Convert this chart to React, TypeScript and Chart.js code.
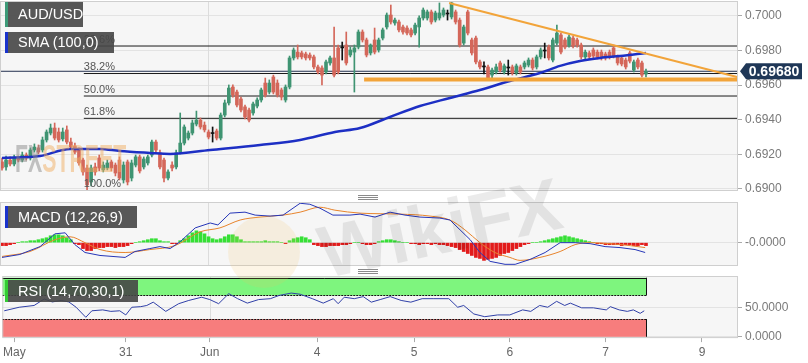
import React, { useEffect, useRef } from "react";
import { Chart, registerables } from "chart.js";

Chart.register(...registerables);
Chart.defaults.font.family = '"Liberation Sans", Arial, sans-serif';

// ---------------- DATA ----------------
// hourly AUD/USD candles: [open, high, low, close]
const candles: number[][] = [
  [0.69156, 0.69179, 0.69109, 0.69121], [0.69127, 0.6919, 0.69109, 0.69167], [0.69167, 0.69185, 0.69133, 0.69144],
  [0.69144, 0.69196, 0.69133, 0.69179], [0.69179, 0.6919, 0.69156, 0.69167], [0.69167, 0.69213, 0.69156, 0.69196],
  [0.69196, 0.69208, 0.69167, 0.69179], [0.69179, 0.69237, 0.69167, 0.69225], [0.69225, 0.6926, 0.69213, 0.69242],
  [0.69237, 0.69254, 0.69202, 0.69213], [0.69225, 0.693, 0.69213, 0.69283], [0.69283, 0.69341, 0.69271, 0.69329],
  [0.69323, 0.69375, 0.69312, 0.69352], [0.69352, 0.69381, 0.69283, 0.69294], [0.69329, 0.69352, 0.69271, 0.69283],
  [0.69289, 0.69352, 0.69277, 0.69329], [0.69341, 0.69364, 0.6926, 0.69271], [0.69271, 0.69294, 0.69231, 0.69242],
  [0.69248, 0.69265, 0.69202, 0.69213], [0.69225, 0.69237, 0.69138, 0.6915], [0.69167, 0.69179, 0.6908, 0.69098],
  [0.69121, 0.69138, 0.68989, 0.69023], [0.6904, 0.69138, 0.69017, 0.69121], [0.69127, 0.6915, 0.6908, 0.69098],
  [0.69179, 0.69196, 0.69104, 0.69121], [0.6911, 0.69156, 0.69098, 0.69138], [0.69121, 0.69167, 0.6911, 0.6915],
  [0.69156, 0.69167, 0.69104, 0.69121], [0.69138, 0.6915, 0.69075, 0.69092], [0.69167, 0.69185, 0.69052, 0.69063],
  [0.69052, 0.69156, 0.69034, 0.69138], [0.69156, 0.69167, 0.69023, 0.6904], [0.69063, 0.69167, 0.69046, 0.6915],
  [0.69138, 0.69196, 0.69127, 0.69185], [0.69185, 0.69196, 0.69092, 0.69104], [0.69127, 0.69185, 0.69115, 0.69173],
  [0.6915, 0.69196, 0.69138, 0.69185], [0.69196, 0.69283, 0.69185, 0.69271], [0.69271, 0.69283, 0.69213, 0.69225],
  [0.69208, 0.69225, 0.69115, 0.69127], [0.69167, 0.69179, 0.6904, 0.69063], [0.69063, 0.6911, 0.69052, 0.69098],
  [0.69138, 0.69156, 0.69104, 0.69121], [0.69127, 0.69225, 0.69115, 0.69208], [0.69213, 0.69439, 0.69202, 0.69265],
  [0.69265, 0.6937, 0.69254, 0.69358], [0.69294, 0.69335, 0.69283, 0.69323], [0.69323, 0.69398, 0.69312, 0.69381],
  [0.69375, 0.6945, 0.69364, 0.69398], [0.69398, 0.6941, 0.69346, 0.69358], [0.69369, 0.69387, 0.69329, 0.69341],
  [0.69329, 0.69341, 0.69289, 0.693], [0.6932, 0.69358, 0.69271, 0.6932], [0.69335, 0.69346, 0.69283, 0.69294],
  [0.69294, 0.69439, 0.69283, 0.69427], [0.69427, 0.69514, 0.69416, 0.69497], [0.69497, 0.69601, 0.69485, 0.69583],
  [0.69589, 0.69601, 0.69531, 0.69543], [0.6956, 0.69572, 0.69474, 0.69485], [0.6952, 0.69531, 0.69445, 0.69456],
  [0.69474, 0.69485, 0.69404, 0.69416], [0.69456, 0.69468, 0.69387, 0.69398], [0.69439, 0.69502, 0.69427, 0.69491],
  [0.69479, 0.69526, 0.69468, 0.69514], [0.69514, 0.69583, 0.69502, 0.69572], [0.69612, 0.69641, 0.69531, 0.69543],
  [0.6956, 0.6963, 0.69549, 0.69612], [0.69647, 0.69658, 0.69549, 0.6956], [0.69612, 0.6963, 0.69531, 0.69543],
  [0.69572, 0.69583, 0.69514, 0.69531], [0.69514, 0.69601, 0.69502, 0.69589], [0.69589, 0.69768, 0.69578, 0.69757],
  [0.69757, 0.69815, 0.69745, 0.69803], [0.69791, 0.69832, 0.69751, 0.69763], [0.69786, 0.69797, 0.69751, 0.69763],
  [0.6978, 0.69791, 0.69745, 0.69757], [0.69774, 0.69786, 0.69745, 0.69757], [0.69763, 0.69774, 0.69693, 0.69705],
  [0.69705, 0.69716, 0.69664, 0.69676], [0.69699, 0.69711, 0.69601, 0.69658], [0.69676, 0.69745, 0.69664, 0.69734],
  [0.69728, 0.69768, 0.69716, 0.69757], [0.69757, 0.69936, 0.69647, 0.69658], [0.69815, 0.69832, 0.69664, 0.69676],
  [0.69815, 0.69849, 0.69745, 0.69815], [0.69832, 0.69907, 0.69716, 0.69728], [0.69774, 0.6982, 0.69763, 0.69803],
  [0.69791, 0.69832, 0.6956, 0.69815], [0.6982, 0.69919, 0.69809, 0.69907], [0.69907, 0.69919, 0.69849, 0.69861],
  [0.69861, 0.69872, 0.69763, 0.69774], [0.69786, 0.69838, 0.69774, 0.69832], [0.69861, 0.6993, 0.6978, 0.69791],
  [0.69803, 0.69872, 0.69791, 0.69861], [0.69872, 0.6993, 0.69861, 0.69919], [0.69936, 0.70017, 0.69924, 0.70005],
  [0.70005, 0.70063, 0.69953, 0.69965], [0.69959, 0.69988, 0.69947, 0.69976], [0.69965, 0.69976, 0.69907, 0.69919],
  [0.69936, 0.69947, 0.69895, 0.69907], [0.6993, 0.69942, 0.6989, 0.69901], [0.69919, 0.6993, 0.69878, 0.6989],
  [0.69901, 0.69959, 0.6989, 0.69947], [0.69936, 0.7, 0.6982, 0.69988], [0.69988, 0.70046, 0.69976, 0.70034],
  [0.69988, 0.70034, 0.69976, 0.70023], [0.70023, 0.70034, 0.69953, 0.69965], [0.69976, 0.70028, 0.69965, 0.70017],
  [0.69988, 0.70075, 0.69976, 0.70017], [0.70005, 0.70046, 0.69994, 0.70034], [0.70011, 0.70034, 0.69976, 0.70011],
  [0.69994, 0.70086, 0.69982, 0.70075], [0.70023, 0.70034, 0.69953, 0.69965], [0.69976, 0.69988, 0.6982, 0.69832],
  [0.69843, 0.69947, 0.69832, 0.69936], [0.70023, 0.70034, 0.6989, 0.69901], [0.69861, 0.69872, 0.69774, 0.69786],
  [0.69872, 0.69884, 0.69722, 0.69734], [0.69734, 0.69745, 0.69693, 0.69705], [0.69705, 0.69734, 0.69664, 0.69705],
  [0.69705, 0.69716, 0.6963, 0.69641], [0.69658, 0.69699, 0.69641, 0.69687], [0.69676, 0.69722, 0.69664, 0.69705],
  [0.69728, 0.69739, 0.69676, 0.69687], [0.69676, 0.69722, 0.69664, 0.69711], [0.69699, 0.69745, 0.69658, 0.69699],
  [0.69705, 0.69716, 0.69658, 0.6967], [0.6967, 0.69722, 0.69658, 0.69711], [0.69705, 0.69716, 0.69664, 0.69676],
  [0.69705, 0.69739, 0.69693, 0.69728], [0.69716, 0.69757, 0.69705, 0.69745], [0.69745, 0.69757, 0.69687, 0.69699],
  [0.69705, 0.69774, 0.69693, 0.69763], [0.69763, 0.69815, 0.69751, 0.69803], [0.69797, 0.69843, 0.69757, 0.69797],
  [0.6982, 0.69832, 0.69745, 0.69757], [0.69745, 0.69872, 0.69734, 0.69861], [0.69843, 0.69947, 0.69832, 0.69901],
  [0.6989, 0.69901, 0.6978, 0.69791], [0.69861, 0.69872, 0.69809, 0.6982], [0.69832, 0.6989, 0.6982, 0.69878],
  [0.69872, 0.69884, 0.69815, 0.69826], [0.69861, 0.69872, 0.6982, 0.69832], [0.69832, 0.69843, 0.69751, 0.69763],
  [0.69763, 0.69803, 0.69751, 0.69791], [0.69786, 0.69797, 0.69751, 0.69763], [0.69803, 0.69815, 0.69757, 0.69768],
  [0.69791, 0.69803, 0.69751, 0.69763], [0.69791, 0.69803, 0.69745, 0.69757], [0.6978, 0.69791, 0.69745, 0.69757],
  [0.69791, 0.69803, 0.69751, 0.69763], [0.69815, 0.69832, 0.69757, 0.69768], [0.69763, 0.69774, 0.69716, 0.69728],
  [0.69757, 0.69768, 0.69711, 0.69722], [0.69745, 0.69757, 0.69693, 0.69705], [0.69786, 0.69797, 0.69728, 0.69739],
  [0.69687, 0.69745, 0.69676, 0.69734], [0.69745, 0.69757, 0.69693, 0.69705], [0.69728, 0.69739, 0.69647, 0.69658],
  [0.69664, 0.69693, 0.69647, 0.6968],
];

// SMA(100) read at bar positions
const smaIdx = [0, 9.4, 16.8, 24.2, 29.1, 36.5, 41.5, 51.4, 63.7, 73.6, 82.2, 88.4, 95.8, 103.2, 110.6, 118, 125.4, 132.8, 137.8, 142.7, 147.7, 152.6, 159];
const smaVal = [0.69179, 0.6919, 0.69231, 0.69231, 0.69219, 0.69208, 0.69202, 0.69225, 0.69254, 0.69283, 0.69329, 0.69352, 0.69416, 0.69479, 0.69526, 0.69572, 0.69624, 0.6967, 0.69711, 0.69739, 0.69757, 0.69768, 0.69786];

// Fibonacci retracement
const fibLevels = [0.70086, 0.69826, 0.69667, 0.69537, 0.69408, 0.68989];
const fibLabels = ["0.0%", "23.6%", "38.2%", "50.0%", "61.8%", "100.0%"];
const fibStartIdx = 20.2;

// drawn trend lines
const trendIdx = [110.4, 181.5];
const trendVal = [0.70075, 0.69647];
const supportIdx = [89.4, 181.5];
const supportVal = [0.69632, 0.69632];

const priceTicks = [0.69, 0.692, 0.694, 0.696, 0.698, 0.7];

// MACD (12,26,9), units of 0.00001
const macdIdx = [0, 4.4, 9.4, 13.1, 15.6, 18, 20.5, 24.2, 30.4, 32.8, 36.5, 39, 41.5, 44, 47.7, 51.4, 53.3, 56.3, 60, 62.5, 66.2, 69.4, 73.6, 76, 78.5, 81.7, 85.9, 88.4, 92.1, 95.8, 99.5, 103.2, 108.1, 110.6, 113.1, 115.6, 118, 120.5, 124.2, 126.7, 130.4, 134.1, 137.8, 141.5, 145.2, 148.9, 152.6, 156.3, 158.8];
const macdVal = [-15, -12, -4, 9, 10, -2, -10, -13, -15, -9, -6, -4, -6, 1, 15, 20, 18, 30, 31, 28, 27, 28, 40, 39, 35, 28, 28, 29, 26, 31, 28, 26, 25, 23, 13, 3, -10, -19, -22, -22, -17, -10, 0, 0, -1, -4, -5, -7, -10];
const signalIdx = [0, 6.9, 13.1, 16.8, 20.5, 24.2, 30.4, 36.5, 42.7, 48.9, 53.8, 58.8, 63.7, 69.4, 73.6, 78.5, 82.2, 88.4, 98.3, 105.7, 110.6, 114.3, 118, 121.7, 125.4, 127.9, 132.8, 137.8, 141.5, 145.2, 150.1, 155.1, 158.8];
const signalVal = [-14, -9, 3, 6, 0, -7, -10, -7, -3, 11, 15, 23, 26, 28, 31, 36, 33, 30, 29, 27, 23, 13, 0, -10, -15, -18, -15, -9, -2, 0, -1, -3, -5];
const histVal = [
  -3, -3, -2, -1, 0, 1, 1, 2, 2, 3,
  4, 5, 7, 8, 8, 7, 5, 3, -1, -2,
  -6, -8, -8, -6, -5, -5, -4, -4, -5, -4,
  -4, -3, -1, 0, 1, 2, 3, 4, 4, 2,
  1, 1, -1, -1, 2, 4, 7, 10, 12, 11,
  9, 6, 4, 3, 4, 6, 8, 8, 6, 3,
  1, 1, 1, 1, 1, 2, 1, 1, 1, 0,
  -1, 2, 4, 5, 6, 5, 3, -2, -3, -4,
  -4, -3, -3, -3, -2, -2, -1, 0, 0, -1,
  -2, -2, -1, 1, 2, 3, 3, 2, 1, 0,
  0, -1, -1, -2, -1, -1, -2, -1, -2, -2,
  -3, -4, -5, -7, -9, -11, -13, -15, -16, -18,
  -17, -16, -15, -13, -11, -10, -8, -6, -4, -2,
  -1, 0, 0, 1, 2, 3, 4, 5, 6, 7,
  6, 5, 4, 3, 2, 1, 0, -1, -1, -2,
  -2, -2, -2, -3, -2, -2, -3, -3, -2, -3,
];

// RSI (14,70,30,1)
const rsiIdx = [0, 3.7, 7.4, 9.9, 11.9, 14.1, 16, 17.8, 20.2, 21.7, 24.4, 26.4, 28.6, 30.1, 31.6, 33.8, 35.3, 36.9, 40, 43.2, 45.7, 48.9, 50.9, 53.1, 55.6, 57.8, 60.2, 63, 65.9, 68.1, 71.1, 73.3, 76.3, 79, 81.5, 82.7, 84.2, 86.7, 88.9, 90.9, 93.1, 95.6, 98.3, 100.7, 103.5, 106.4, 110.1, 112.3, 113.8, 116.3, 119, 122.2, 125.2, 126.2, 128.4, 130.4, 132.6, 134.6, 136.8, 138.8, 140.2, 143, 145.9, 149.1, 150.1, 152.3, 154.3, 155.8, 157.5, 158.5];
const rsiVal = [44, 50, 53, 64, 59, 61.5, 59, 50, 33, 44, 45.5, 43, 44, 37, 50, 51, 53, 58.6, 43, 56, 61.5, 67, 63, 56, 73, 64.5, 57, 63, 64.5, 70, 74, 72, 64.5, 57, 64.5, 56, 67, 64.5, 68, 58.6, 63, 68, 61.5, 58.6, 64.5, 64.5, 64.5, 50, 53, 38.6, 34, 37, 37, 39.7, 45.5, 43, 53, 50, 60, 53, 57, 49, 49, 45.5, 51, 45.5, 43, 45.5, 39.7, 44];
const rsiUpper = 70;
const rsiLower = 30;
const rsiTicks = [0, 50];

// time axis
const dateIdx = [2.5, 30.1, 50.9, 77.5, 101.5, 125.2, 148.9, 172.8];
const dateLabels = ["May", "31", "Jun", "4", "5", "6", "7", "9"];
const monthIdx = 50.9;

// ---------------- STYLE ----------------
const X_MIN = -0.494;
const X_MAX = 181.72;
const UP = "#3f9472";
const DOWN = "#d4675a";
const DOJI = "#111111";
const PLOT_BG = "#f6f6f6";
const ORANGE = "#f2a43a";

const lastIdx = candles.length - 1;
const lastClose = candles[lastIdx][3];
const candleColor = candles.map((c) => (c[3] > c[0] ? UP : c[3] < c[0] ? DOWN : DOJI));

const pts = (xs: number[], ys: number[]) => xs.map((x, i) => ({ x, y: ys[i] }));

const panelPlugin = {
  id: "panel",
  beforeDraw(chart: any) {
    const { ctx, chartArea: a } = chart;
    ctx.save();
    ctx.fillStyle = PLOT_BG;
    ctx.fillRect(a.left, a.top, a.width, a.height);
    ctx.restore();
  },
  beforeDatasetsDraw(chart: any) {
    const { ctx, chartArea: a, scales } = chart;
    const x = Math.round(scales.x.getPixelForValue(monthIdx)) + 0.5;
    ctx.save();
    ctx.strokeStyle = "#dcdcdc";
    ctx.lineWidth = 1;
    ctx.beginPath();
    ctx.moveTo(x, a.top);
    ctx.lineTo(x, a.bottom);
    ctx.stroke();
    ctx.restore();
  },
  afterDraw(chart: any) {
    const { ctx, chartArea: a } = chart;
    ctx.save();
    ctx.strokeStyle = "#cfcfcf";
    ctx.lineWidth = 1;
    ctx.strokeRect(a.left + 0.5, a.top + 0.5, a.width - 1, a.height - 1);
    ctx.restore();
  },
};

const fibLabelPlugin = {
  id: "fibLabels",
  afterDatasetsDraw(chart: any) {
    const { ctx, chartArea: a, scales } = chart;
    ctx.save();
    ctx.beginPath();
    ctx.rect(a.left, a.top, a.width, a.height);
    ctx.clip();
    ctx.font = '11px "Liberation Sans", Arial, sans-serif';
    ctx.fillStyle = "#555";
    ctx.textAlign = "left";
    ctx.textBaseline = "bottom";
    fibLevels.forEach((lv, i) => {
      ctx.fillText(fibLabels[i], scales.x.getPixelForValue(fibStartIdx), scales.y.getPixelForValue(lv) - 1);
    });
    ctx.restore();
  },
};

const badgePlugin = {
  id: "badge",
  afterDraw(chart: any) {
    const { ctx, chartArea: a, scales } = chart;
    const py = scales.y.getPixelForValue(lastClose);
    const tip = a.right + 2;
    ctx.save();
    ctx.fillStyle = "#1f3757";
    ctx.beginPath();
    ctx.moveTo(tip, py);
    ctx.lineTo(tip + 6, py - 8);
    ctx.lineTo(tip + 62, py - 8);
    ctx.lineTo(tip + 62, py + 8);
    ctx.lineTo(tip + 6, py + 8);
    ctx.closePath();
    ctx.fill();
    ctx.fillStyle = "#ffffff";
    ctx.font = 'bold 14px "Liberation Sans", Arial, sans-serif';
    ctx.textAlign = "center";
    ctx.textBaseline = "middle";
    ctx.fillText(lastClose.toFixed(5), tip + 34, py + 1);
    ctx.restore();
  },
};

const zonePlugin = {
  id: "zones",
  beforeDatasetsDraw(chart: any) {
    const { ctx, chartArea: a, scales } = chart;
    const x0 = a.left;
    const x1 = Math.round(scales.x.getPixelForValue(lastIdx)) + 0.5;
    const yTop = scales.y.getPixelForValue(100);
    const y70 = scales.y.getPixelForValue(rsiUpper);
    const y30 = scales.y.getPixelForValue(rsiLower);
    const y0 = scales.y.getPixelForValue(0);
    ctx.save();
    ctx.fillStyle = "#7ef57e";
    ctx.fillRect(x0, yTop, x1 - x0, y70 - yTop);
    ctx.fillStyle = "#f77d7d";
    ctx.fillRect(x0, y30, x1 - x0, y0 - y30);
    ctx.strokeStyle = "#111";
    ctx.lineWidth = 1;
    ctx.beginPath();
    ctx.moveTo(x0, Math.round(yTop) + 0.5);
    ctx.lineTo(x1, Math.round(yTop) + 0.5);
    ctx.moveTo(x1, yTop);
    ctx.lineTo(x1, y70);
    ctx.moveTo(x1, y30);
    ctx.lineTo(x1, y0);
    ctx.stroke();
    ctx.setLineDash([2, 1]);
    ctx.beginPath();
    ctx.moveTo(x0, Math.round(y70) + 0.5);
    ctx.lineTo(x1, Math.round(y70) + 0.5);
    ctx.moveTo(x0, Math.round(y30) + 0.5);
    ctx.lineTo(x1, Math.round(y30) + 0.5);
    ctx.stroke();
    ctx.restore();
  },
};

const yAxis = (min: number, max: number, ticks: number[], fmt: (v: number) => string) => ({
  type: "linear",
  position: "right",
  min,
  max,
  afterFit(s: any) {
    s.width = 70;
  },
  afterBuildTicks(s: any) {
    s.ticks = ticks.map((v) => ({ value: v }));
  },
  ticks: { callback: (v: any) => fmt(Number(v)), color: "#7a7a7a", font: { size: 12 }, padding: 3 },
  grid: { color: "#e3e3e3", tickLength: 4, tickColor: "#aaaaaa" },
  border: { display: false },
});

const hiddenX = {
  type: "linear",
  min: X_MIN,
  max: X_MAX,
  offset: false,
  display: false,
};

const common = {
  responsive: false,
  animation: false,
  events: [],
  plugins: { legend: { display: false }, tooltip: { enabled: false } },
};

function mainConfig(): any {
  return {
    type: "line",
    data: {
      datasets: [
        ...fibLevels.map((lv) => ({
          type: "line",
          data: [{ x: fibStartIdx, y: lv }, { x: X_MAX, y: lv }],
          borderColor: "#1a1a1a",
          borderWidth: 1,
          pointRadius: 0,
          order: 20,
        })),
        {
          type: "line",
          data: [{ x: X_MIN, y: lastClose }, { x: X_MAX, y: lastClose }],
          borderColor: "#22304f",
          borderWidth: 1,
          pointRadius: 0,
          order: 19,
        },
        {
          type: "bar",
          data: candles.map((c, i) => ({ x: i, y: [c[2], c[1]] })),
          backgroundColor: candleColor,
          barThickness: 1,
          grouped: false,
          order: 15,
        },
        {
          type: "bar",
          data: candles.map((c, i) => ({ x: i, y: [c[0], c[3]] })),
          backgroundColor: candleColor,
          barThickness: 3,
          minBarLength: 1,
          grouped: false,
          order: 14,
        },
        {
          type: "line",
          data: pts(smaIdx, smaVal),
          borderColor: "#1d2fc4",
          borderWidth: 2.5,
          pointRadius: 0,
          cubicInterpolationMode: "monotone",
          order: 10,
        },
        {
          type: "line",
          data: pts(trendIdx, trendVal),
          borderColor: ORANGE,
          borderWidth: 2,
          pointRadius: 0,
          order: 5,
        },
        {
          type: "line",
          data: pts(supportIdx, supportVal),
          borderColor: ORANGE,
          borderWidth: 4,
          pointRadius: 0,
          order: 5,
        },
      ],
    },
    options: {
      ...common,
      layout: { padding: { top: 12, bottom: 13, left: 0, right: 0 } },
      scales: {
        x: hiddenX,
        y: yAxis(0.68988, 0.700862, priceTicks, (v) => v.toFixed(4)),
      },
    },
    plugins: [panelPlugin, fibLabelPlugin, badgePlugin],
  };
}

function macdConfig(): any {
  return {
    type: "line",
    data: {
      datasets: [
        {
          type: "bar",
          data: histVal.map((v, i) => ({ x: i, y: v })),
          backgroundColor: histVal.map((v) => (v >= 0 ? "#35e035" : "#e21b1b")),
          barThickness: 3,
          grouped: false,
          order: 10,
        },
        {
          type: "line",
          data: pts(signalIdx, signalVal),
          borderColor: "#e8842c",
          borderWidth: 1,
          pointRadius: 0,
          cubicInterpolationMode: "monotone",
          order: 5,
        },
        {
          type: "line",
          data: pts(macdIdx, macdVal),
          borderColor: "#2636b8",
          borderWidth: 1,
          pointRadius: 0,
          order: 4,
        },
      ],
    },
    options: {
      ...common,
      layout: { padding: { top: 12, bottom: 12, left: 0, right: 0 } },
      scales: {
        x: hiddenX,
        y: yAxis(-23.7, 41.3, [0], () => "-0.0000"),
      },
    },
    plugins: [panelPlugin],
  };
}

function rsiConfig(): any {
  return {
    type: "line",
    data: {
      datasets: [
        {
          type: "line",
          data: pts(rsiIdx, rsiVal),
          borderColor: "#3040a8",
          borderWidth: 1,
          pointRadius: 0,
        },
      ],
    },
    options: {
      ...common,
      layout: { padding: { top: 12, bottom: 0.5, left: 0, right: 0 } },
      scales: {
        x: {
          type: "linear",
          min: X_MIN,
          max: X_MAX,
          offset: false,
          afterBuildTicks(s: any) {
            s.ticks = dateIdx.map((v) => ({ value: v }));
          },
          ticks: {
            callback: (_v: any, i: number) => dateLabels[i],
            color: "#666",
            font: { size: 12 },
            autoSkip: false,
            maxRotation: 0,
            minRotation: 0,
            padding: 3,
          },
          grid: { drawOnChartArea: false, tickLength: 4, tickColor: "#aaaaaa" },
          border: { display: false },
        },
        y: yAxis(-2.24, 102.9, rsiTicks, (v) => v.toFixed(4)),
      },
    },
    plugins: [panelPlugin, zonePlugin],
  };
}

function useChart(ref: React.RefObject<HTMLCanvasElement | null>, make: () => any) {
  useEffect(() => {
    if (!ref.current) return;
    const c = new Chart(ref.current, make());
    return () => c.destroy();
  }, []);
}

const Legend = ({ top, width, height, accent, text }: any) => (
  <div
    style={{
      position: "absolute",
      left: 5,
      top,
      width,
      height,
      background: "rgba(70,70,70,0.9)",
      color: "#fff",
      fontSize: 14.5,
      lineHeight: height + "px",
      paddingLeft: 13,
      boxSizing: "border-box",
      whiteSpace: "nowrap",
    }}
  >
    <div style={{ position: "absolute", left: 0, top: 0, width: 3, height: "100%", background: accent }} />
    {text}
  </div>
);

const Handle = ({ top }: any) => (
  <div
    style={{
      position: "absolute",
      left: 358,
      top,
      width: 20,
      height: 5,
      background: "repeating-linear-gradient(to bottom, #8a8a8a 0px, #8a8a8a 1px, transparent 1px, transparent 2px)",
    }}
  />
);

export default function App() {
  const mainRef = useRef<HTMLCanvasElement>(null);
  const macdRef = useRef<HTMLCanvasElement>(null);
  const rsiRef = useRef<HTMLCanvasElement>(null);
  useChart(mainRef, mainConfig);
  useChart(macdRef, macdConfig);
  useChart(rsiRef, rsiConfig);

  return (
    <div
      style={{
        position: "fixed",
        left: 0,
        top: 0,
        width: 808,
        height: 363,
        overflow: "hidden",
        background: "#ffffff",
        fontFamily: '"Liberation Sans", Arial, sans-serif',
      }}
    >
      <canvas ref={mainRef} width={808} height={215} style={{ position: "absolute", left: 0, top: -11, width: 808, height: 215 }} />
      <canvas ref={macdRef} width={808} height={88} style={{ position: "absolute", left: 0, top: 190, width: 808, height: 88 }} />
      <canvas ref={rsiRef} width={808} height={99} style={{ position: "absolute", left: 0, top: 264, width: 808, height: 99 }} />

      {/* watermarks */}
      <div
        style={{
          position: "absolute",
          left: 15,
          top: 140,
          fontSize: 38,
          lineHeight: "38px",
          fontWeight: "bold",
          transform: "scaleX(0.56)",
          transformOrigin: "left top",
          opacity: 0.5,
          whiteSpace: "nowrap",
          pointerEvents: "none",
        }}
      >
        <span style={{ color: "#8a8a8a" }}>FX</span>
        <span style={{ color: "#f0ad62" }}>STREET</span>
      </div>
      <div
        style={{
          position: "absolute",
          left: 228,
          top: 216,
          width: 72,
          height: 72,
          borderRadius: "50%",
          background: "rgba(245,195,100,0.16)",
          pointerEvents: "none",
        }}
      />
      <div
        style={{
          position: "absolute",
          left: 440,
          top: 228,
          transform: "translate(-50%,-50%) rotate(-12deg)",
          fontSize: 74,
          fontWeight: "bold",
          color: "rgba(0,0,0,0.08)",
          whiteSpace: "nowrap",
          pointerEvents: "none",
        }}
      >
        WikiFX
      </div>

      <Legend top={2} width={78} height={25} accent="#3d9a78" text="AUD/USD" />
      <Legend top={32} width={109} height={21} accent="#1a33cc" text="SMA (100,0)" />
      <Legend top={206} width={132} height={22} accent="#1a33cc" text="MACD (12,26,9)" />
      <Legend top={280} width={133} height={22} accent="#33cc33" text="RSI (14,70,30,1)" />

      <Handle top={195} />
      <Handle top={269} />
    </div>
  );
}
